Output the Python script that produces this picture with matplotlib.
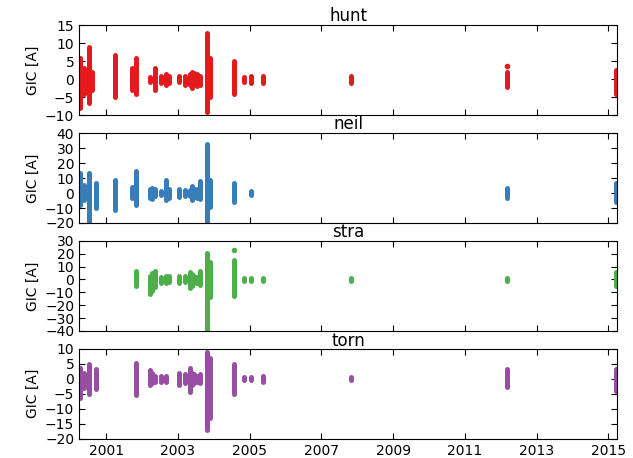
import datetime
import numpy as np
import pandas as pd
import matplotlib
matplotlib.use("Agg")
import matplotlib.pyplot as plt

nan = np.nan

# storm events (shared dates for all stations)
event_dates = [
    "2000-04-06", "2000-05-24", "2000-07-15", "2000-08-12", "2000-09-17",
    "2001-03-31", "2001-09-26", "2001-11-06",
    "2002-03-24", "2002-04-18", "2002-05-11", "2002-07-15", "2002-09-07", "2002-10-01",
    "2003-01-10", "2003-03-20", "2003-04-30", "2003-05-29", "2003-06-18", "2003-07-12",
    "2003-08-18", "2003-10-29", "2003-11-20",
    "2004-07-25", "2004-11-08", "2005-01-18", "2005-05-15",
    "2007-11-01", "2012-03-08", "2015-03-17",
]

stations = ["hunt", "neil", "stra", "torn"]
colors = ["#e41a1c", "#377eb8", "#4daf4a", "#984ea3"]

# min / max GIC per event [A]
hunt_lo = [-8, -4, -6.5, -3, nan, -5, -3, -4, -0.7, nan, -3, -1, -1.5, -1,
           -0.8, -1.5, -1.5, -2.5, -1.5, -2, -1.5, -9.2, -5,
           -4, -0.7, -1, -1, -1, -2.2, -4]
hunt_hi = [6, 3, 9, 2, nan, 6.7, 3, 6, 0.7, nan, 3, 1, 1.5, 1,
           0.8, 1, 1.5, 2, 1.8, 1.5, 1, 12.8, 6,
           5, 0.7, 1, 0.8, 0.8, 2, 2.5]

neil_lo = [-8, -4.7, -19.3, nan, -10, -11.3, -3, -8, -3, -4, -2, -1.5, -4.7, -3,
           -2.5, -2, -2, -4.5, -2.5, -3, -4, -20, -9,
           -6, nan, -1.5, nan, nan, -3.3, -6]
neil_hi = [13.3, 5.3, 13.3, nan, 6.7, 8.7, 4, 15, 3, 3.5, 3, 1.5, 8.7, 3,
           2.5, 2, 2, 4.5, 3, 3, 8, 33, 8.7,
           6.7, nan, 1.5, nan, nan, 3.3, 7]

stra_lo = [nan, nan, nan, nan, nan, nan, nan, -5.1, -11.6, -9, -6, -3, -3, -2,
           -2.5, -2, -7, -5, -3, -3, -4, -40, -14,
           -13, -1, -1, -1, -0.8, -1.5, -5]
stra_hi = [nan, nan, nan, nan, nan, nan, nan, 6.4, 3, 5.4, 7, 2, 3, 2.5,
           2.5, 3, 6, 4, 3, 2, 7, 20.8, 14,
           15.4, 1, 1, 1, 0.8, 1.5, 6]

torn_lo = [-6.3, -3, -5, nan, -3.5, nan, nan, -5.3, -2, -1.5, -1, -1, -1, nan,
           -2, -1.5, -4.5, -2, -1.5, -1, -1.5, -17, -13,
           -5, -0.5, -0.5, -1, -0.5, -2.7, -4]
torn_hi = [3.7, 2, 5, nan, 3.2, nan, nan, 5.4, 3, 2, 1, 1, 1, nan,
           2, 1.5, 3.5, 2, 1.5, 1, 1.5, 9, 7,
           5, 0.5, 0.5, 1, 0.5, 3.3, 3.3]

# isolated outlier points
outlier_dates = {"hunt": ["2012-03-08"], "stra": ["2004-07-27"]}
outlier_vals = {"hunt": [3.7], "stra": [23]}

ylims = [(-10, 15), (-20, 40), (-40, 30), (-20, 10)]
ysteps = [5, 10, 10, 5]

lows = [hunt_lo, neil_lo, stra_lo, torn_lo]
highs = [hunt_hi, neil_hi, stra_hi, torn_hi]

dates = pd.to_datetime(event_dates)

fig, axes = plt.subplots(4, 1, figsize=(6.33, 4.58), dpi=100, sharex=True)
fig.subplots_adjust(left=0.125, right=0.975, top=0.945, bottom=0.042, hspace=0.2)

for i, ax in enumerate(axes):
    lo = np.array(lows[i], dtype=float)
    hi = np.array(highs[i], dtype=float)
    ok = ~np.isnan(lo)
    ax.vlines(dates[ok], lo[ok], hi[ok], color=colors[i], linewidth=3.6,
              capstyle="round")
    name = stations[i]
    if name in outlier_dates:
        ax.plot(pd.to_datetime(outlier_dates[name]), outlier_vals[name], ".",
                color=colors[i], markersize=6)
    ax.set_ylim(*ylims[i])
    ax.set_yticks(np.arange(ylims[i][0], ylims[i][1] + 1, ysteps[i]))
    ax.set_ylabel("GIC [A]", fontsize=10)
    ax.set_title(name, fontsize=12, pad=2)
    ax.tick_params(direction="in", top=True, right=True, labelsize=10, length=4)

axes[-1].set_xlim(datetime.datetime(2000, 4, 1), datetime.datetime(2015, 4, 1))
axes[-1].set_xticks([datetime.datetime(y, 1, 1) for y in range(2001, 2016, 2)])
axes[-1].set_xticklabels([str(y) for y in range(2001, 2016, 2)])

fig.savefig("out.png", dpi=100)
